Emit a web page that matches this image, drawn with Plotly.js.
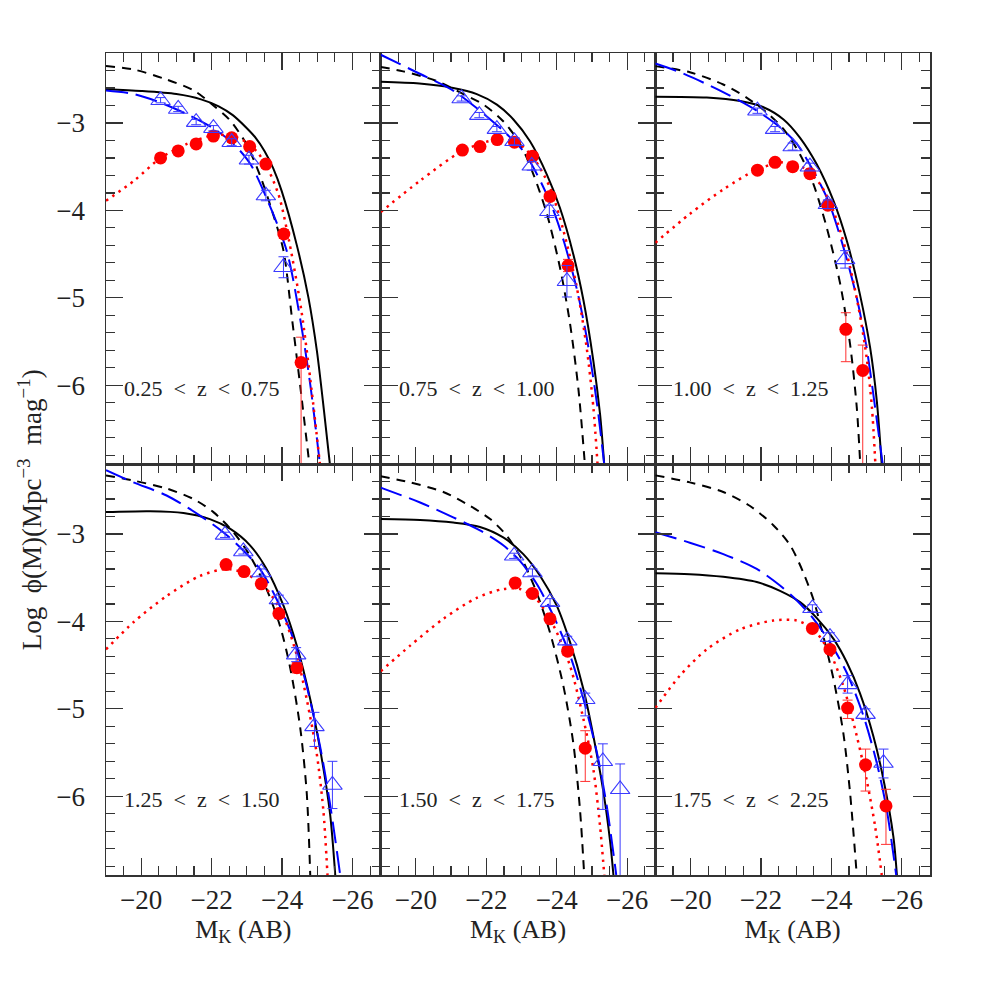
<!DOCTYPE html>
<html>
<head>
<meta charset="utf-8">
<script src="https://cdn.plot.ly/plotly-3.0.1.min.js"></script>
<style>html,body{margin:0;padding:0;background:#fff;}</style>
</head>
<body>
<div id="chart" style="width:981px;height:981px;"></div>
<script>
// ---------- DATA ----------
const zLabels = ["0.25 < z < 0.75","0.75 < z < 1.00","1.00 < z < 1.25","1.25 < z < 1.50","1.50 < z < 1.75","1.75 < z < 2.25"];

// Panel 1
const p1_solid_x = [-19.0,-20.0,-21.0,-21.7,-22.2,-22.6,-23.0,-23.25,-23.5,-23.75,-23.99,-24.42,-24.75,-24.99,-25.19,-25.36];
const p1_solid_y = [-2.615,-2.635,-2.67,-2.73,-2.81,-2.91,-3.06,-3.17,-3.32,-3.52,-3.78,-4.40,-5.00,-5.61,-6.29,-6.91];
const p1_dash_x = [-19.0,-19.8,-20.7,-21.5,-22.05,-22.5,-23.0,-23.42,-23.75,-24.04,-24.28,-24.51,-24.78];
const p1_dash_y = [-2.35,-2.39,-2.50,-2.63,-2.80,-2.96,-3.25,-3.65,-4.05,-4.46,-5.23,-5.99,-6.92];
const p1_long_x = [-19.0,-19.8,-20.5,-21.3,-22.0,-22.6,-23.1,-23.55,-24.13,-24.51,-24.80,-25.08];
const p1_long_y = [-2.63,-2.67,-2.76,-2.90,-3.05,-3.23,-3.47,-3.85,-4.46,-5.23,-5.99,-6.92];
const p1_dot_x = [-19.0,-19.8,-20.55,-21.3,-22.05,-22.6,-23.1,-23.5,-23.9,-24.2,-24.55,-24.84,-25.08];
const p1_dot_y = [-3.89,-3.66,-3.40,-3.24,-3.14,-3.15,-3.25,-3.45,-3.82,-4.35,-5.15,-6.06,-6.92];
const p1_circ_x = [-20.55,-21.05,-21.56,-22.05,-22.57,-23.08,-23.54,-24.05,-24.54];
const p1_circ_y = [-3.40,-3.32,-3.24,-3.15,-3.17,-3.27,-3.47,-4.27,-5.74];
const p1_circ_eu = [0.02,0.02,0.02,0.02,0.02,0.03,0.03,0.05,0.29];
const p1_circ_ed = [0.02,0.02,0.02,0.02,0.02,0.03,0.03,0.05,2.0];
const p1_tri_x = [-20.55,-21.05,-21.56,-22.05,-22.57,-23.06,-23.54,-24.04];
const p1_tri_y = [-2.74,-2.84,-2.99,-3.06,-3.22,-3.42,-3.83,-4.65];
const p1_tri_eu = [0.03,0.03,0.03,0.03,0.04,0.05,0.06,0.12];
const p1_tri_ed = [0.03,0.03,0.03,0.03,0.04,0.05,0.06,0.12];

// Panel 2
const p2_solid_x = [-19.0,-20.1,-21.06,-21.73,-22.3,-22.77,-23.24,-23.72,-24.09,-24.47,-24.76,-25.04,-25.23,-25.35];
const p2_solid_y = [-2.53,-2.55,-2.60,-2.67,-2.79,-2.96,-3.21,-3.59,-3.97,-4.50,-5.03,-5.72,-6.33,-6.91];
const p2_dash_x = [-19.0,-19.64,-20.59,-21.35,-21.92,-22.48,-22.96,-23.34,-23.72,-24.09,-24.38,-24.62,-24.80];
const p2_dash_y = [-2.36,-2.41,-2.52,-2.67,-2.79,-2.98,-3.24,-3.59,-4.04,-4.65,-5.30,-6.06,-6.91];
const p2_long_x = [-19.0,-20.02,-21.06,-21.82,-22.48,-23.05,-23.43,-23.86,-24.2,-24.57,-24.85,-25.14,-25.35];
const p2_long_y = [-2.22,-2.42,-2.63,-2.86,-3.09,-3.32,-3.58,-3.95,-4.35,-4.90,-5.45,-6.20,-6.91];
const p2_dot_x = [-19.0,-20.12,-21.32,-22.30,-22.86,-23.34,-23.81,-24.19,-24.57,-24.85,-25.04,-25.16];
const p2_dot_y = [-4.02,-3.66,-3.32,-3.19,-3.22,-3.40,-3.74,-4.23,-4.88,-5.57,-6.25,-6.91];
const p2_circ_x = [-21.32,-21.82,-22.31,-22.80,-23.31,-23.81,-24.32];
const p2_circ_y = [-3.31,-3.27,-3.19,-3.22,-3.38,-3.84,-4.63];
const p2_circ_eu = [0.02,0.02,0.02,0.03,0.04,0.05,0.07];
const p2_circ_ed = [0.02,0.02,0.02,0.03,0.04,0.05,0.07];
const p2_tri_x = [-21.30,-21.80,-22.30,-22.80,-23.29,-23.79,-24.29];
const p2_tri_y = [-2.72,-2.91,-3.07,-3.21,-3.49,-4.01,-4.81];
const p2_tri_eu = [0.03,0.03,0.03,0.04,0.05,0.07,0.18];
const p2_tri_ed = [0.03,0.03,0.03,0.04,0.05,0.07,0.18];

// Panel 3
const p3_solid_x = [-19.0,-20.46,-21.41,-22.07,-22.64,-23.11,-23.58,-24.06,-24.44,-24.81,-25.10,-25.29,-25.43];
const p3_solid_y = [-2.70,-2.71,-2.75,-2.82,-2.96,-3.17,-3.47,-3.89,-4.35,-4.96,-5.57,-6.18,-6.91];
const p3_dash_x = [-19.0,-19.98,-20.93,-21.59,-22.16,-22.64,-23.11,-23.49,-23.87,-24.25,-24.53,-24.72,-24.82];
const p3_dash_y = [-2.35,-2.42,-2.56,-2.71,-2.88,-3.07,-3.36,-3.70,-4.20,-4.84,-5.53,-6.25,-6.91];
const p3_long_x = [-19.0,-19.70,-20.84,-21.88,-22.54,-23.02,-23.49,-23.91,-24.34,-24.72,-25.00,-25.24,-25.46];
const p3_long_y = [-2.32,-2.42,-2.63,-2.86,-3.05,-3.24,-3.55,-3.89,-4.42,-5.00,-5.57,-6.25,-6.91];
const p3_dot_x = [-19.0,-19.98,-20.93,-21.90,-22.64,-23.20,-23.68,-24.06,-24.44,-24.77,-25.00,-25.15,-25.25];
const p3_dot_y = [-4.37,-4.04,-3.76,-3.53,-3.45,-3.51,-3.70,-4.01,-4.50,-5.11,-5.68,-6.25,-6.91];
const p3_circ_x = [-21.90,-22.40,-22.90,-23.39,-23.90,-24.41,-24.89];
const p3_circ_y = [-3.54,-3.45,-3.50,-3.58,-3.94,-5.36,-5.83];
const p3_circ_eu = [0.02,0.02,0.02,0.03,0.05,0.19,0.29];
const p3_circ_ed = [0.02,0.02,0.02,0.03,0.05,0.37,2.0];
const p3_tri_x = [-21.90,-22.40,-22.90,-23.39,-23.90,-24.39];
const p3_tri_y = [-2.86,-3.07,-3.27,-3.50,-3.93,-4.56];
const p3_tri_eu = [0.03,0.03,0.04,0.04,0.05,0.10];
const p3_tri_ed = [0.03,0.03,0.04,0.04,0.05,0.10];

// Panel 4
const p4_solid_x = [-19.0,-20.25,-21.20,-21.95,-22.52,-23.09,-23.56,-24.04,-24.42,-24.80,-25.08,-25.36,-25.51];
const p4_solid_y = [-2.75,-2.74,-2.76,-2.83,-2.94,-3.13,-3.40,-3.82,-4.28,-4.89,-5.46,-6.19,-6.90];
const p4_dash_x = [-19.0,-19.78,-20.72,-21.48,-22.05,-22.62,-23.09,-23.56,-23.94,-24.22,-24.51,-24.70,-24.80];
const p4_dash_y = [-2.33,-2.39,-2.48,-2.60,-2.75,-2.98,-3.25,-3.63,-4.05,-4.51,-5.20,-5.96,-6.90];
const p4_long_x = [-19.0,-19.78,-20.72,-21.67,-22.33,-22.90,-23.37,-23.85,-24.32,-24.70,-25.08,-25.36,-25.65];
const p4_long_y = [-2.27,-2.41,-2.56,-2.79,-2.98,-3.19,-3.40,-3.75,-4.20,-4.74,-5.43,-6.08,-6.90];
const p4_dot_x = [-19.0,-19.78,-20.72,-21.67,-22.43,-23.00,-23.56,-24.04,-24.42,-24.70,-24.98,-25.17,-25.29];
const p4_dot_y = [-4.32,-4.01,-3.71,-3.48,-3.40,-3.46,-3.63,-3.94,-4.39,-4.89,-5.50,-6.15,-6.90];
const p4_circ_x = [-22.41,-22.92,-23.41,-23.91,-24.42];
const p4_circ_y = [-3.35,-3.43,-3.57,-3.91,-4.53];
const p4_circ_eu = [0.03,0.03,0.03,0.04,0.06];
const p4_circ_ed = [0.03,0.03,0.03,0.04,0.06];
const p4_tri_x = [-22.38,-22.90,-23.41,-23.91,-24.40,-24.92,-25.43];
const p4_tri_y = [-3.01,-3.20,-3.44,-3.75,-4.38,-5.20,-5.87];
const p4_tri_eu = [0.03,0.03,0.04,0.05,0.08,0.16,0.27];
const p4_tri_ed = [0.03,0.03,0.04,0.05,0.08,0.23,0.27];

// Panel 5
const p5_solid_x = [-19.0,-20.12,-21.06,-21.82,-22.48,-23.05,-23.53,-24.0,-24.38,-24.76,-25.04,-25.33,-25.52,-25.61];
const p5_solid_y = [-2.83,-2.84,-2.87,-2.92,-3.04,-3.23,-3.48,-3.82,-4.24,-4.78,-5.31,-5.96,-6.53,-6.90];
const p5_dash_x = [-19.0,-19.83,-20.78,-21.54,-22.11,-22.58,-23.05,-23.43,-23.81,-24.19,-24.47,-24.66,-24.78];
const p5_dash_y = [-2.34,-2.41,-2.52,-2.68,-2.83,-3.02,-3.32,-3.67,-4.13,-4.74,-5.39,-6.15,-6.90];
const p5_long_x = [-19.0,-20.12,-21.06,-21.82,-22.48,-22.96,-23.43,-23.91,-24.38,-24.76,-25.14,-25.42,-25.69];
const p5_long_y = [-2.47,-2.64,-2.81,-2.96,-3.13,-3.31,-3.57,-3.94,-4.39,-4.89,-5.50,-6.11,-6.90];
const p5_dot_x = [-19.0,-19.83,-20.78,-21.73,-22.48,-22.96,-23.43,-23.91,-24.38,-24.76,-25.04,-25.23,-25.35];
const p5_dot_y = [-4.57,-4.28,-3.97,-3.73,-3.63,-3.63,-3.75,-4.05,-4.51,-5.12,-5.69,-6.34,-6.90];
const p5_circ_x = [-22.82,-23.31,-23.81,-24.31,-24.81];
const p5_circ_y = [-3.56,-3.68,-3.97,-4.34,-5.45];
const p5_circ_eu = [0.03,0.03,0.04,0.05,0.20];
const p5_circ_ed = [0.03,0.03,0.04,0.05,0.38];
const p5_tri_x = [-22.79,-23.31,-23.81,-24.30,-24.81,-25.31,-25.80];
const p5_tri_y = [-3.25,-3.44,-3.78,-4.22,-4.89,-5.60,-5.92];
const p5_tri_eu = [0.03,0.04,0.04,0.05,0.07,0.20,0.29];
const p5_tri_ed = [0.03,0.04,0.04,0.05,0.19,0.55,2.0];

// Panel 6
const p6_solid_x = [-19.0,-19.98,-20.93,-21.88,-22.54,-23.11,-23.58,-24.06,-24.44,-24.81,-25.19,-25.48,-25.76,-25.86];
const p6_solid_y = [-3.45,-3.46,-3.49,-3.55,-3.65,-3.78,-3.96,-4.20,-4.47,-4.82,-5.31,-5.81,-6.46,-6.90];
const p6_dash_x = [-19.0,-19.98,-20.93,-21.69,-22.35,-22.83,-23.20,-23.49,-23.77,-24.06,-24.34,-24.53,-24.72];
const p6_dash_y = [-2.33,-2.41,-2.52,-2.68,-2.90,-3.13,-3.44,-3.75,-4.17,-4.66,-5.28,-5.96,-6.90];
const p6_long_x = [-19.0,-19.98,-20.93,-21.88,-22.54,-23.02,-23.49,-23.96,-24.44,-24.91,-25.29,-25.57,-25.84];
const p6_long_y = [-2.98,-3.10,-3.23,-3.40,-3.59,-3.76,-3.97,-4.24,-4.59,-5.08,-5.62,-6.15,-6.90];
const p6_dot_x = [-19.0,-19.70,-20.46,-21.41,-22.35,-23.02,-23.49,-23.96,-24.34,-24.72,-25.0,-25.24,-25.43];
const p6_dot_y = [-4.99,-4.62,-4.32,-4.09,-3.99,-3.99,-4.09,-4.36,-4.74,-5.31,-5.81,-6.34,-6.90];
const p6_circ_x = [-23.46,-23.96,-24.46,-24.97,-25.55];
const p6_circ_y = [-4.08,-4.32,-4.99,-5.64,-6.11];
const p6_circ_eu = [0.03,0.04,0.09,0.18,0.19];
const p6_circ_ed = [0.03,0.04,0.12,0.30,0.44];
const p6_tri_x = [-23.46,-23.96,-24.46,-24.97,-25.48];
const p6_tri_y = [-3.85,-4.18,-4.72,-5.06,-5.62];
const p6_tri_eu = [0.04,0.05,0.10,0.06,0.16];
const p6_tri_ed = [0.04,0.05,0.10,0.06,0.17];

const xTickVals = [-20,-22,-24,-26];
const yTickVals = [-3,-4,-5,-6];

// ---------- BUILD ----------
const panels = [
  {solid:[p1_solid_x,p1_solid_y],dash:[p1_dash_x,p1_dash_y],long:[p1_long_x,p1_long_y],dot:[p1_dot_x,p1_dot_y],circ:[p1_circ_x,p1_circ_y,p1_circ_eu,p1_circ_ed],tri:[p1_tri_x,p1_tri_y,p1_tri_eu,p1_tri_ed]},
  {solid:[p2_solid_x,p2_solid_y],dash:[p2_dash_x,p2_dash_y],long:[p2_long_x,p2_long_y],dot:[p2_dot_x,p2_dot_y],circ:[p2_circ_x,p2_circ_y,p2_circ_eu,p2_circ_ed],tri:[p2_tri_x,p2_tri_y,p2_tri_eu,p2_tri_ed]},
  {solid:[p3_solid_x,p3_solid_y],dash:[p3_dash_x,p3_dash_y],long:[p3_long_x,p3_long_y],dot:[p3_dot_x,p3_dot_y],circ:[p3_circ_x,p3_circ_y,p3_circ_eu,p3_circ_ed],tri:[p3_tri_x,p3_tri_y,p3_tri_eu,p3_tri_ed]},
  {solid:[p4_solid_x,p4_solid_y],dash:[p4_dash_x,p4_dash_y],long:[p4_long_x,p4_long_y],dot:[p4_dot_x,p4_dot_y],circ:[p4_circ_x,p4_circ_y,p4_circ_eu,p4_circ_ed],tri:[p4_tri_x,p4_tri_y,p4_tri_eu,p4_tri_ed]},
  {solid:[p5_solid_x,p5_solid_y],dash:[p5_dash_x,p5_dash_y],long:[p5_long_x,p5_long_y],dot:[p5_dot_x,p5_dot_y],circ:[p5_circ_x,p5_circ_y,p5_circ_eu,p5_circ_ed],tri:[p5_tri_x,p5_tri_y,p5_tri_eu,p5_tri_ed]},
  {solid:[p6_solid_x,p6_solid_y],dash:[p6_dash_x,p6_dash_y],long:[p6_long_x,p6_long_y],dot:[p6_dot_x,p6_dot_y],circ:[p6_circ_x,p6_circ_y,p6_circ_eu,p6_circ_ed],tri:[p6_tri_x,p6_tri_y,p6_tri_eu,p6_tri_ed]}
];

const FONT = "Liberation Serif, Times New Roman, serif";
const AX = '#333333';
const traces = [];
const layout = {
  width: 981, height: 981,
  margin: {l:106, r:51, t:53, b:106, pad:0},
  paper_bgcolor:'#ffffff', plot_bgcolor:'#ffffff',
  showlegend:false,
  font:{family:FONT, color:'#222', size:24},
  annotations:[]
};

panels.forEach((p,i)=>{
  const n = i+1;
  const xa = n===1 ? 'x' : 'x'+n;
  const ya = n===1 ? 'y' : 'y'+n;
  const col = i%3, row = Math.floor(i/3);
  const common = {xaxis:xa, yaxis:ya, hoverinfo:'skip', showlegend:false};
  traces.push(Object.assign({type:'scatter',mode:'lines',x:p.dash[0],y:p.dash[1],
    line:{color:'#000000',width:2,dash:'9px,7px',shape:'spline',smoothing:0.8}},common));
  traces.push(Object.assign({type:'scatter',mode:'lines',x:p.solid[0],y:p.solid[1],
    line:{color:'#000000',width:2,shape:'spline',smoothing:0.8}},common));
  traces.push(Object.assign({type:'scatter',mode:'lines',x:p.long[0],y:p.long[1],
    line:{color:'#0000ff',width:2,dash:'22px,8px',shape:'spline',smoothing:0.8}},common));
  traces.push(Object.assign({type:'scatter',mode:'lines',x:p.dot[0],y:p.dot[1],
    line:{color:'#ff0000',width:2.5,dash:'2.5px,5px',shape:'spline',smoothing:0.8}},common));
  traces.push(Object.assign({type:'scatter',mode:'markers',x:p.circ[0],y:p.circ[1],cliponaxis:true,
    marker:{symbol:'circle',size:13,color:'#ff0000',line:{width:0}},
    error_y:{type:'data',symmetric:false,array:p.circ[2],arrayminus:p.circ[3],color:'#ff3030',thickness:1,width:5}},common));
  traces.push(Object.assign({type:'scatter',mode:'markers',x:p.tri[0],y:p.tri[1],cliponaxis:true,
    marker:{symbol:'triangle-up-open',size:17,color:'#3a3aff',line:{width:1.1,color:'#3a3aff'}},
    error_y:{type:'data',symmetric:false,array:p.tri[2],arrayminus:p.tri[3],color:'#3a3aff',thickness:1,width:5}},common));

  const xkey = n===1 ? 'xaxis' : 'xaxis'+n;
  const ykey = n===1 ? 'yaxis' : 'yaxis'+n;
  layout[xkey] = {
    domain:[col/3,(col+1)/3], anchor:ya, range:[-19,-26.8], autorange:false,
    tickmode:'array', tickvals:xTickVals, ticks:'inside', ticklen:17, tickwidth:1.2, tickcolor:AX,
    minor:{dtick:0.5, tick0:-20, ticks:'inside', ticklen:9, tickwidth:1.2, tickcolor:AX},
    showline:true, linecolor:AX, linewidth:1.5, mirror:'allticks', showgrid:false, zeroline:false,
    showticklabels: row===1, tickfont:{family:FONT,size:27,color:'#222'}, ticklabelstandoff:0,
    fixedrange:true
  };
  if(row===1){
    layout[xkey].title = {text:'M<sub>K</sub>\u00a0(AB)', font:{family:FONT,size:26,color:'#222'}, standoff:2};
  }
  layout[ykey] = {
    domain: row===0 ? [0.5,1] : [0,0.5], anchor:xa, range:[-6.9,-2.2], autorange:false,
    tickmode:'array', tickvals:yTickVals, ticks:'inside', ticklen:17, tickwidth:1.2, tickcolor:AX,
    minor:{dtick:0.2, tick0:-3, ticks:'inside', ticklen:9, tickwidth:1.2, tickcolor:AX},
    showline:true, linecolor:AX, linewidth:1.5, mirror:'allticks', showgrid:false, zeroline:false,
    showticklabels: col===0, tickfont:{family:FONT,size:27,color:'#222'}, ticklabelstandoff:14,
    fixedrange:true
  };
  const sp = '\u00a0\u00a0';
  const lab = zLabels[i].replace(/ /g, sp).replace(/</g,'&lt;');
  layout.annotations.push({xref:xa, yref:ya, x:-19.45, y:-6.04, xanchor:'left', yanchor:'middle',
    text:lab, showarrow:false, font:{family:FONT,size:22,color:'#222'}});
});

layout.annotations.push({xref:'paper', yref:'paper', x:-0.092, y:0.444, xanchor:'center', yanchor:'middle',
  textangle:-90, showarrow:false,
  text:'Log\u00a0\u00a0\u03d5(M)(Mpc<sup>\u22123</sup>\u00a0\u00a0mag<sup>\u22121</sup>)',
  font:{family:FONT,size:27,color:'#222'}});

Plotly.newPlot('chart', traces, layout, {staticPlot:true, displayModeBar:false});
</script>
</body>
</html>
